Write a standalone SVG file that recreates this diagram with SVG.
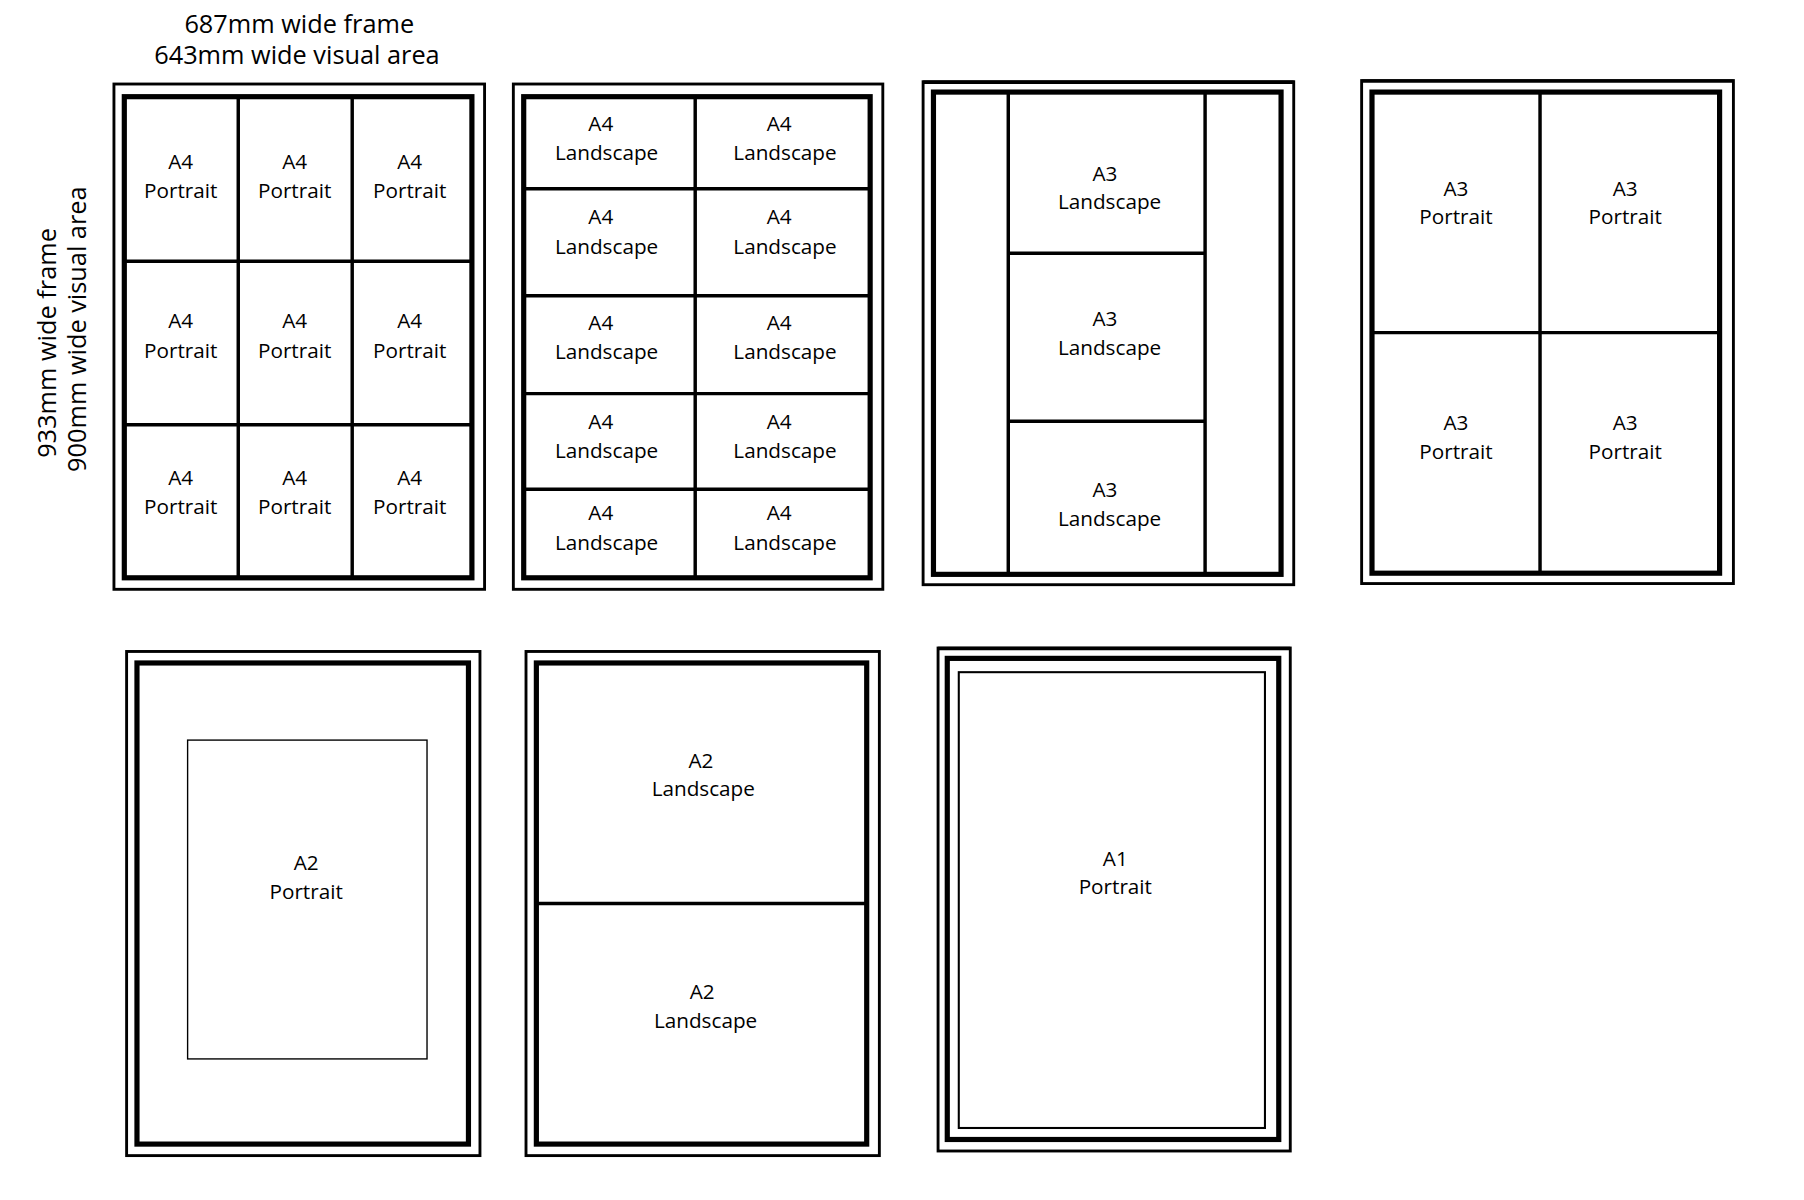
<svg xmlns="http://www.w3.org/2000/svg" width="1804" height="1200" viewBox="0 0 1804 1200">
<style>
.o{fill:none;stroke:#000;stroke-width:2.5}
.i{fill:none;stroke:#000;stroke-width:4.5}
.d{stroke:#000;stroke-width:3}
.t{fill:none;stroke:#000;stroke-width:1.2}
text{font-family:"Open Sans","Noto Sans",sans-serif;font-size:18px;text-anchor:middle;fill:#000}
.h{font-size:22px}
</style>
<rect width="1804" height="1200" fill="#fff"/>
<g transform="scale(1.151)">
<g id="labels">
<text class="h" x="260" y="29">687mm wide frame</text>
<text class="h" x="258" y="56">643mm wide visual area</text>
<text class="h" transform="translate(49,298) rotate(-90)">933mm wide frame</text>
<text class="h" transform="translate(75,286) rotate(-90)">900mm wide visual area</text>
</g>
<g id="frame1">
<rect class="o" x="99" y="73" width="322" height="439"/>
<rect class="i" x="108" y="84" width="302" height="418"/>
<line class="d" x1="207" y1="84" x2="207" y2="502"/><line class="d" x1="306" y1="84" x2="306" y2="502"/>
<line class="d" x1="108" y1="227" x2="410" y2="227"/><line class="d" x1="108" y1="369" x2="410" y2="369"/>
<text x="157" y="147">A4</text><text x="157" y="172">Portrait</text>
<text x="256" y="147">A4</text><text x="256" y="172">Portrait</text>
<text x="356" y="147">A4</text><text x="356" y="172">Portrait</text>
<text x="157" y="285">A4</text><text x="157" y="311">Portrait</text>
<text x="256" y="285">A4</text><text x="256" y="311">Portrait</text>
<text x="356" y="285">A4</text><text x="356" y="311">Portrait</text>
<text x="157" y="421">A4</text><text x="157" y="447">Portrait</text>
<text x="256" y="421">A4</text><text x="256" y="447">Portrait</text>
<text x="356" y="421">A4</text><text x="356" y="447">Portrait</text>
</g>
<g id="frame2">
<rect class="o" x="446" y="73" width="321" height="439"/>
<rect class="i" x="455" y="84" width="301" height="418"/>
<line class="d" x1="604" y1="84" x2="604" y2="502"/>
<line class="d" x1="455" y1="164" x2="756" y2="164"/><line class="d" x1="455" y1="257" x2="756" y2="257"/>
<line class="d" x1="455" y1="342" x2="756" y2="342"/><line class="d" x1="455" y1="425" x2="756" y2="425"/>
<text x="522" y="114">A4</text><text x="527" y="139">Landscape</text>
<text x="677" y="114">A4</text><text x="682" y="139">Landscape</text>
<text x="522" y="195">A4</text><text x="527" y="221">Landscape</text>
<text x="677" y="195">A4</text><text x="682" y="221">Landscape</text>
<text x="522" y="287">A4</text><text x="527" y="312">Landscape</text>
<text x="677" y="287">A4</text><text x="682" y="312">Landscape</text>
<text x="522" y="373">A4</text><text x="527" y="398">Landscape</text>
<text x="677" y="373">A4</text><text x="682" y="398">Landscape</text>
<text x="522" y="452">A4</text><text x="527" y="478">Landscape</text>
<text x="677" y="452">A4</text><text x="682" y="478">Landscape</text>
</g>
<g id="frame3">
<rect class="o" x="802" y="71" width="322" height="437"/>
<line class="d" x1="802" y1="71.5" x2="1124" y2="71.5"/>
<rect class="i" x="811" y="80" width="302" height="419"/>
<line class="d" x1="876" y1="80" x2="876" y2="499"/><line class="d" x1="1047" y1="80" x2="1047" y2="499"/>
<line class="d" x1="876" y1="220" x2="1047" y2="220"/><line class="d" x1="876" y1="366" x2="1047" y2="366"/>
<text x="960" y="157">A3</text><text x="964" y="182">Landscape</text>
<text x="960" y="283">A3</text><text x="964" y="308">Landscape</text>
<text x="960" y="432">A3</text><text x="964" y="457">Landscape</text>
</g>
<g id="frame4">
<rect class="o" x="1183" y="70" width="323" height="437"/>
<line class="d" x1="1183" y1="70.5" x2="1506" y2="70.5"/>
<rect class="i" x="1192" y="80" width="302" height="418"/>
<line class="d" x1="1338" y1="80" x2="1338" y2="498"/>
<line class="d" x1="1192" y1="289" x2="1494" y2="289"/>
<text x="1265" y="170">A3</text><text x="1265" y="195">Portrait</text>
<text x="1412" y="170">A3</text><text x="1412" y="195">Portrait</text>
<text x="1265" y="374">A3</text><text x="1265" y="399">Portrait</text>
<text x="1412" y="374">A3</text><text x="1412" y="399">Portrait</text>
</g>
<g id="frame5">
<rect class="o" x="110" y="566" width="307" height="438"/>
<rect class="i" x="119" y="576" width="288" height="418"/>
<rect class="t" x="163" y="643" width="208" height="277"/>
<text x="266" y="756">A2</text><text x="266" y="781">Portrait</text>
</g>
<g id="frame6">
<rect class="o" x="457" y="566" width="307" height="438"/>
<rect class="i" x="466" y="576" width="287" height="418"/>
<line class="d" x1="466" y1="785" x2="753" y2="785"/>
<text x="609" y="667">A2</text><text x="611" y="692">Landscape</text>
<text x="610" y="868">A2</text><text x="613" y="893">Landscape</text>
</g>
<g id="frame7">
<rect class="o" x="815" y="563" width="306" height="437"/>
<line class="d" x1="815" y1="563.5" x2="1121" y2="563.5"/>
<rect class="i" x="823" y="572" width="288" height="418"/>
<rect class="t" x="833" y="584" width="266" height="396" style="stroke-width:1.8"/>
<text x="969" y="752">A1</text><text x="969" y="777">Portrait</text>
</g>
</g>
</svg>
